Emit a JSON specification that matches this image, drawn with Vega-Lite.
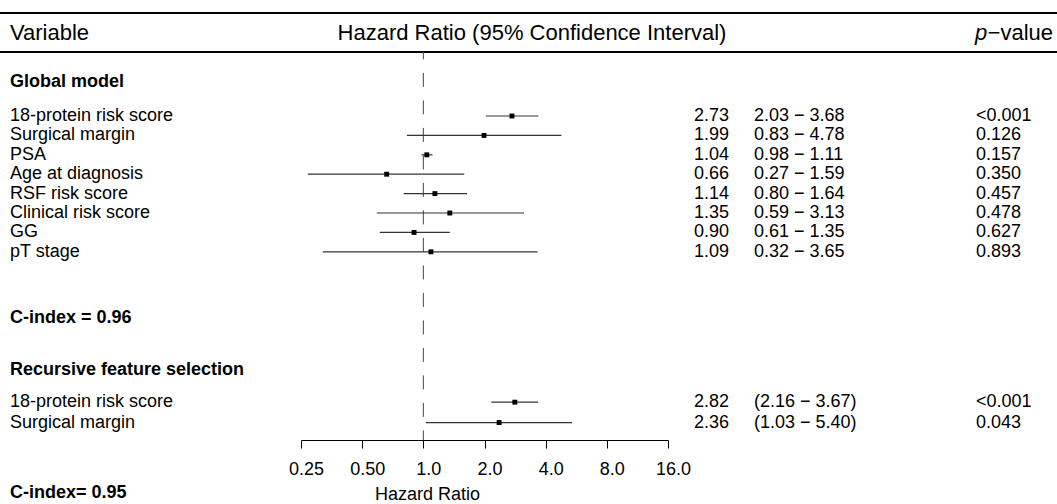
{
  "$schema": "https://vega.github.io/schema/vega-lite/v6.json",
  "width": 1057,
  "height": 440,
  "autosize": {"type": "none"},
  "padding": {"left": 0, "top": 0, "right": 0, "bottom": 64},
  "config": {"font": "Liberation Sans", "view": {"stroke": null}},
  "datasets": {
    "items": [
      {"section": "Global model", "variable": "18-protein risk score", "row": 0, "hr": 2.73, "lo": 2.03, "hi": 3.68, "ci_text": "2.03 − 3.68", "p_text": "<0.001"},
      {"section": "Global model", "variable": "Surgical margin", "row": 1, "hr": 1.99, "lo": 0.83, "hi": 4.78, "ci_text": "0.83 − 4.78", "p_text": "0.126"},
      {"section": "Global model", "variable": "PSA", "row": 2, "hr": 1.04, "lo": 0.98, "hi": 1.11, "ci_text": "0.98 − 1.11", "p_text": "0.157"},
      {"section": "Global model", "variable": "Age at diagnosis", "row": 3, "hr": 0.66, "lo": 0.27, "hi": 1.59, "ci_text": "0.27 − 1.59", "p_text": "0.350"},
      {"section": "Global model", "variable": "RSF risk score", "row": 4, "hr": 1.14, "lo": 0.80, "hi": 1.64, "ci_text": "0.80 − 1.64", "p_text": "0.457"},
      {"section": "Global model", "variable": "Clinical risk score", "row": 5, "hr": 1.35, "lo": 0.59, "hi": 3.13, "ci_text": "0.59 − 3.13", "p_text": "0.478"},
      {"section": "Global model", "variable": "GG", "row": 6, "hr": 0.90, "lo": 0.61, "hi": 1.35, "ci_text": "0.61 − 1.35", "p_text": "0.627"},
      {"section": "Global model", "variable": "pT stage", "row": 7, "hr": 1.09, "lo": 0.32, "hi": 3.65, "ci_text": "0.32 − 3.65", "p_text": "0.893"},
      {"section": "Recursive feature selection", "variable": "18-protein risk score", "row": 14.75, "hr": 2.82, "lo": 2.16, "hi": 3.67, "ci_text": "(2.16 − 3.67)", "p_text": "<0.001"},
      {"section": "Recursive feature selection", "variable": "Surgical margin", "row": 15.8, "hr": 2.36, "lo": 1.03, "hi": 5.40, "ci_text": "(1.03 − 5.40)", "p_text": "0.043"}
    ],
    "headings": [
      {"text": "Global model", "row": -1.75},
      {"text": "C-index = 0.96", "row": 10.41},
      {"text": "Recursive feature selection", "row": 13.09},
      {"text": "C-index= 0.95", "row": 19.45}
    ],
    "header": [
      {"variable": "Variable", "hrci": "Hazard Ratio (95% Confidence Interval)", "p": "p", "pv": "−value", "row": -4.28}
    ],
    "rules": [{"row": -5.31}, {"row": -3.30}],
    "reference": [{"ref": 1, "top": -3.3, "bottom": 16.7}]
  },
  "layer": [
    {
      "data": {"name": "rules"},
      "mark": {"type": "rule", "strokeWidth": 2, "color": "black"},
      "encoding": {
        "y": {"field": "row", "type": "quantitative", "scale": {"domain": [-5.98, 16.7], "reverse": true, "nice": false, "zero": false}, "axis": null}
      }
    },
    {
      "data": {"name": "reference"},
      "mark": {"type": "rule", "strokeDash": [14, 13.5], "strokeDashOffset": 6.6, "color": "#444444", "strokeWidth": 1},
      "encoding": {
        "x": {"field": "ref", "type": "quantitative"},
        "y": {"field": "top", "type": "quantitative", "axis": null},
        "y2": {"field": "bottom"}
      }
    },
    {
      "data": {"name": "items"},
      "mark": {"type": "rule", "color": "#333333", "strokeWidth": 1.2},
      "encoding": {
        "x": {
          "field": "lo", "type": "quantitative",
          "scale": {"type": "log", "base": 2, "domain": [0.25, 16], "range": [301, 668], "nice": false},
          "axis": {
            "values": [0.25, 0.5, 1, 2, 4, 8, 16],
            "labelExpr": "datum.value < 1 ? format(datum.value, '.2f') : format(datum.value, '.1f')",
            "title": "Hazard Ratio",
            "titleFontWeight": "normal",
            "titleFontSize": 18,
            "titleColor": "black",
            "titleX": 427,
            "titleY": 45,
            "titleAlign": "center",
            "titleBaseline": "top",
            "labelFontSize": 18,
            "labelColor": "black",
            "labelPadding": 12,
            "labelOffset": 5,
            "labelFlush": false,
            "labelOverlap": false,
            "tickSize": 8,
            "tickColor": "black",
            "tickWidth": 1,
            "domainColor": "black",
            "domainWidth": 1.2,
            "grid": false
          }
        },
        "x2": {"field": "hi"},
        "y": {"field": "row", "type": "quantitative", "axis": null}
      }
    },
    {
      "data": {"name": "items"},
      "mark": {"type": "point", "shape": "square", "filled": true, "color": "black", "size": 24, "opacity": 1},
      "encoding": {
        "x": {"field": "hr", "type": "quantitative"},
        "y": {"field": "row", "type": "quantitative", "axis": null}
      }
    },
    {
      "data": {"name": "items"},
      "mark": {"type": "text", "align": "left", "baseline": "middle", "fontSize": 18, "color": "black", "x": 10},
      "encoding": {
        "text": {"field": "variable"},
        "y": {"field": "row", "type": "quantitative", "axis": null}
      }
    },
    {
      "data": {"name": "items"},
      "mark": {"type": "text", "align": "left", "baseline": "middle", "fontSize": 18, "color": "black", "x": 694},
      "encoding": {
        "text": {"field": "hr", "format": ".2f"},
        "y": {"field": "row", "type": "quantitative", "axis": null}
      }
    },
    {
      "data": {"name": "items"},
      "mark": {"type": "text", "align": "left", "baseline": "middle", "fontSize": 18, "color": "black", "x": 754},
      "encoding": {
        "text": {"field": "ci_text"},
        "y": {"field": "row", "type": "quantitative", "axis": null}
      }
    },
    {
      "data": {"name": "items"},
      "mark": {"type": "text", "align": "left", "baseline": "middle", "fontSize": 18, "color": "black", "x": 976},
      "encoding": {
        "text": {"field": "p_text"},
        "y": {"field": "row", "type": "quantitative", "axis": null}
      }
    },
    {
      "data": {"name": "headings"},
      "mark": {"type": "text", "align": "left", "baseline": "middle", "fontSize": 18, "fontWeight": "bold", "color": "black", "x": 10},
      "encoding": {
        "text": {"field": "text"},
        "y": {"field": "row", "type": "quantitative", "axis": null}
      }
    },
    {
      "data": {"name": "header"},
      "mark": {"type": "text", "align": "left", "baseline": "middle", "fontSize": 22, "color": "black", "x": 10},
      "encoding": {
        "text": {"field": "variable"},
        "y": {"field": "row", "type": "quantitative", "axis": null}
      }
    },
    {
      "data": {"name": "header"},
      "mark": {"type": "text", "align": "center", "baseline": "middle", "fontSize": 22, "color": "black", "x": 532},
      "encoding": {
        "text": {"field": "hrci"},
        "y": {"field": "row", "type": "quantitative", "axis": null}
      }
    },
    {
      "data": {"name": "header"},
      "mark": {"type": "text", "align": "left", "baseline": "middle", "fontSize": 22, "fontStyle": "italic", "color": "black", "x": 975},
      "encoding": {
        "text": {"field": "p"},
        "y": {"field": "row", "type": "quantitative", "axis": null}
      }
    },
    {
      "data": {"name": "header"},
      "mark": {"type": "text", "align": "right", "baseline": "middle", "fontSize": 22, "color": "black", "x": 1053},
      "encoding": {
        "text": {"field": "pv"},
        "y": {"field": "row", "type": "quantitative", "axis": null}
      }
    }
  ]
}
